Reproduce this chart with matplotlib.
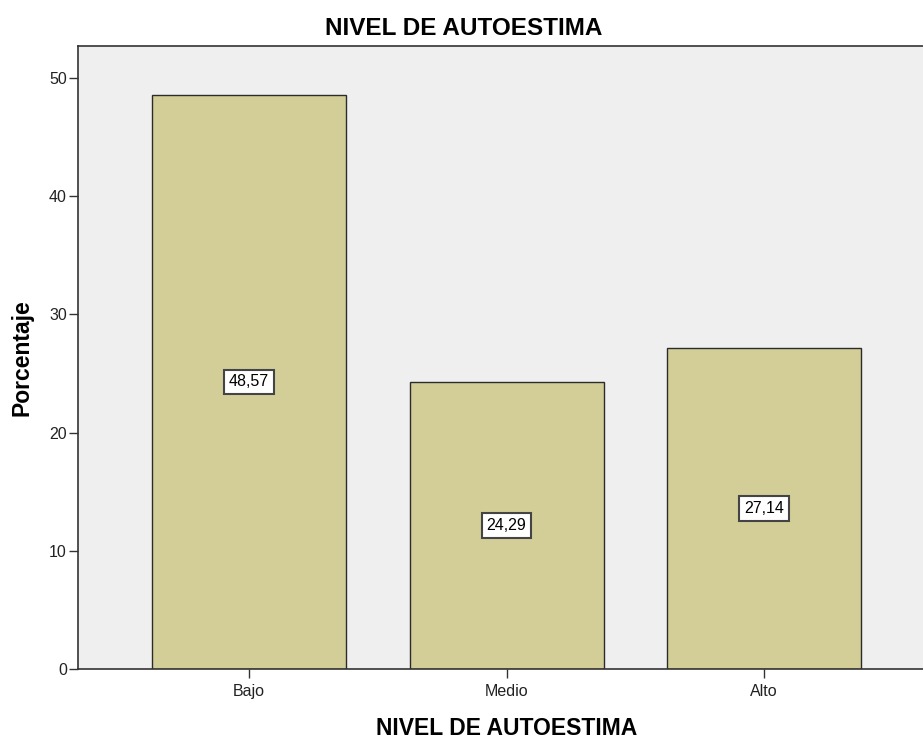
import matplotlib.pyplot as plt

categorias = ["Bajo", "Medio", "Alto"]
porcentajes = [48.57, 24.29, 27.14]
etiquetas = ["48,57", "24,29", "27,14"]

plt.rcParams["font.family"] = ["Liberation Sans", "DejaVu Sans"]

fig = plt.figure(figsize=(9.23, 7.38), dpi=100)
ax = fig.add_axes([0.0845, 0.0935, 0.9155, 0.8442])
ax.set_facecolor("#efefef")

x = range(len(categorias))
ax.bar(x, porcentajes, width=0.753, color="#d3ce98", edgecolor="#2b2b2b", linewidth=1.0, zorder=2)

for xi, v, t in zip(x, porcentajes, etiquetas):
    ax.text(xi, v / 2, t, ha="center", va="center", fontsize=11.5, zorder=3,
            bbox=dict(boxstyle="square,pad=0.3", facecolor="white", edgecolor="#444444", linewidth=1.5))

ax.set_xlim(-0.664, 2.617)
ax.set_ylim(0, 52.7)
ax.set_xticks(list(x))
ax.set_xticklabels(categorias, fontsize=11.5)
ax.set_yticks([0, 10, 20, 30, 40, 50])
ax.tick_params(axis="both", length=6.5, width=1, color="#333333", labelcolor="#222222", labelsize=11.5)
ax.tick_params(axis="x", pad=4)
ax.tick_params(axis="y", pad=1.5)

for s in ["left", "bottom", "top"]:
    ax.spines[s].set_color("#333333")
    ax.spines[s].set_linewidth(1.2)
ax.spines["right"].set_visible(False)

ax.set_ylabel("Porcentaje", fontsize=16.5, fontweight="bold", labelpad=11)
ax.set_xlabel("NIVEL DE AUTOESTIMA", fontsize=16.5, fontweight="bold", labelpad=13)
ax.xaxis.label.set_x(0.507)
# title sits centred on the whole figure, not on the axes
ax.set_title("NIVEL DE AUTOESTIMA", fontsize=17.5, fontweight="bold", pad=8, x=0.456)

fig.savefig("out.png", dpi=100)
